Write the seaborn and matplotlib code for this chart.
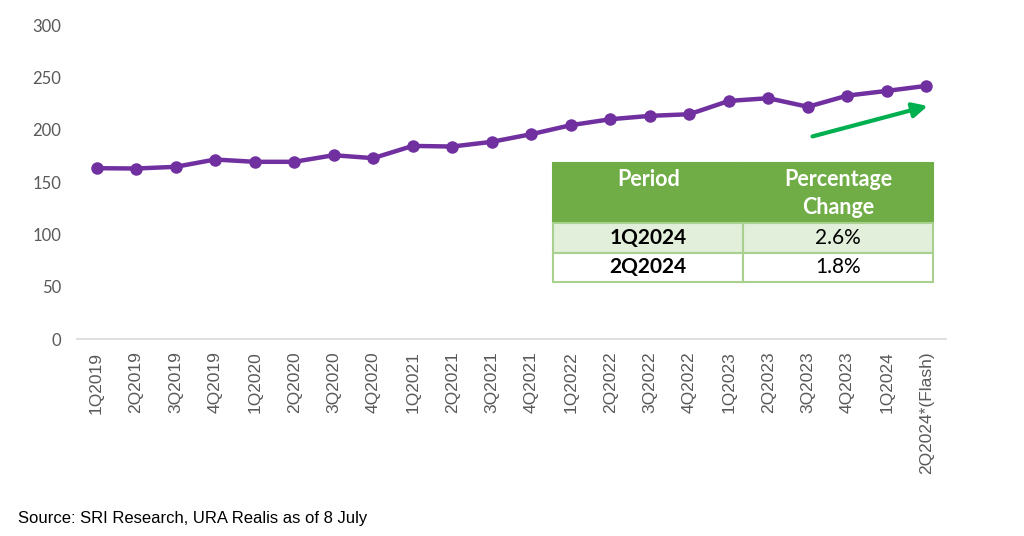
import matplotlib.pyplot as plt
from matplotlib.axes import Axes
import seaborn as sns
import pandas as pd

from typing import *

QUARTERS = [
    "1Q2019", "2Q2019", "3Q2019", "4Q2019",
    "1Q2020", "2Q2020", "3Q2020", "4Q2020",
    "1Q2021", "2Q2021", "3Q2021", "4Q2021",
    "1Q2022", "2Q2022", "3Q2022", "4Q2022",
    "1Q2023", "2Q2023", "3Q2023", "4Q2023",
    "1Q2024", "2Q2024*(Flash)"
]
INDEX_VALUES = [
    163.3, 163.0, 164.6, 171.6,
    169.4, 169.4, 175.7, 172.9,
    184.6, 184.0, 188.5, 195.8,
    204.4, 210.1, 213.3, 214.9,
    227.6, 230.2, 222.0, 232.7,
    237.2, 242.0
]
Y_TICKS = [0, 50, 100, 150, 200, 250, 300]

# "Period" padded with an empty line so it sits level with "Percentage"
TABLE_HEADER = ["Period\n ", "Percentage\nChange"]
TABLE_PERIODS = ["1Q2024", "2Q2024"]
TABLE_CHANGES = ["2.6%", "1.8%"]

SOURCE_NOTE = "Source: SRI Research, URA Realis as of 8 July"

PURPLE = "#7030A0"
GREEN = "#70AD47"
LIGHT_GREEN = "#E2EFDA"
BORDER_GREEN = "#A9D08E"
ARROW_GREEN = "#00B050"
GREY = "#595959"


def drawLine(df: pd.DataFrame, ax: Axes) -> None:
    sns.lineplot(data=df, x='quarter', y='value', ax=ax, color=PURPLE,
                 linewidth=3.2, marker='o', markersize=9,
                 markeredgewidth=0, sort=False)
    ax.set_xlim(-0.5, len(df) - 0.5)
    ax.set_ylim(0, 300)
    ax.set_yticks(Y_TICKS)
    ax.set_xlabel("")
    ax.set_ylabel("")
    ax.grid(False)

    for s in ['top', 'right', 'left']:
        ax.spines[s].set_visible(False)
    ax.spines['bottom'].set_color("#D9D9D9")
    ax.spines['bottom'].set_linewidth(1.2)

    ax.tick_params(axis='y', length=0, pad=11, labelcolor=GREY)
    ax.tick_params(axis='x', length=0, pad=9, labelcolor=GREY,
                   labelrotation=90)
    for lbl in ax.get_yticklabels():
        lbl.set_fontfamily('Lato')
        lbl.set_fontsize(12)
    for lbl in ax.get_xticklabels():
        lbl.set_fontfamily('Liberation Sans')
        lbl.set_fontsize(12.5)

    # trend arrow next to the last quarters
    ax.annotate("", xy=(21.1, 223.5), xytext=(18.05, 193),
                arrowprops=dict(arrowstyle='-|>', color=ARROW_GREEN,
                                lw=3, mutation_scale=22))


def drawTable(ax: Axes) -> None:
    cells = [[p, c] for p, c in zip(TABLE_PERIODS, TABLE_CHANGES)]
    table = ax.table(cellText=cells, colLabels=TABLE_HEADER,
                     cellLoc='center', bbox=[0.548, 0.1815, 0.437, 0.379])
    table.auto_set_font_size(False)

    for (r, c), cell in table.get_celld().items():
        cell.set_edgecolor(BORDER_GREEN)
        cell.set_linewidth(1.5)
        txt = cell.get_text()
        txt.set_fontfamily('Lato')
        txt.set_fontsize(15)
        if r == 0:
            cell.set_height(2.05)
            cell.set_facecolor(GREEN)
            cell.set_edgecolor(GREEN)
            txt.set_color('white')
            txt.set_fontweight('bold')
            txt.set_fontsize(15.5)
            txt.set_linespacing(1.4)
        else:
            cell.set_height(1.0)
            cell.set_facecolor(LIGHT_GREEN if r == 1 else 'white')
            txt.set_color('black')
            if c == 0:
                txt.set_fontweight('bold')


def main() -> None:
    sns.set_theme(style='white')
    plt.rcParams['font.family'] = ['Lato', 'DejaVu Sans']

    df = pd.DataFrame({'quarter': QUARTERS, 'value': INDEX_VALUES})

    fig = plt.figure(figsize=(10.24, 5.36), dpi=100)
    ax = fig.add_axes([0.075, 0.3675, 0.849, 0.5855])
    drawLine(df, ax)
    drawTable(ax)

    fig.text(0.018, 0.032, SOURCE_NOTE, fontsize=12,
             fontfamily='Liberation Sans', color='black', va='center')

    fig.savefig("out.png", dpi=100)


if __name__ == '__main__':
    main()
